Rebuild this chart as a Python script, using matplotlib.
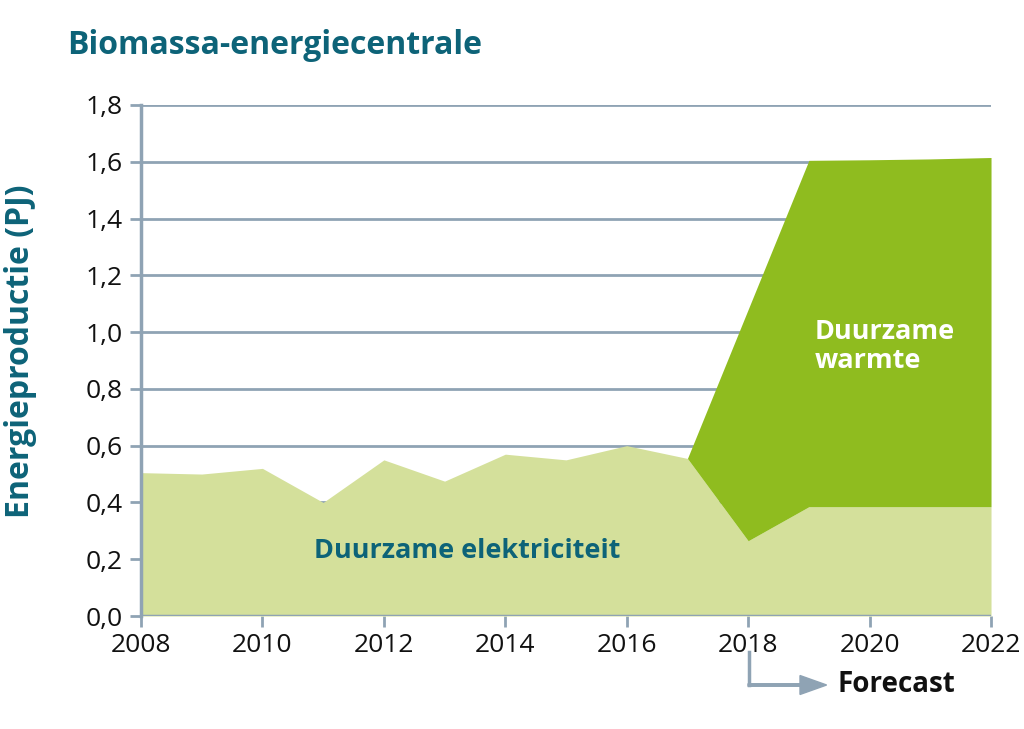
import matplotlib
matplotlib.use('Agg')
import matplotlib.pyplot as plt
import numpy as np

plt.rcParams['font.family'] = ['Open Sans', 'DejaVu Sans']

# data
years = [2008, 2009, 2010, 2011, 2012, 2013, 2014, 2015, 2016, 2017, 2018, 2019, 2020, 2021, 2022]
elektriciteit = [0.505, 0.50, 0.52, 0.40, 0.55, 0.475, 0.57, 0.55, 0.60, 0.555, 0.265, 0.385, 0.385, 0.385, 0.385]
totaal = [0.505, 0.50, 0.52, 0.40, 0.55, 0.475, 0.57, 0.55, 0.60, 0.555, 1.08, 1.605, 1.607, 1.61, 1.615]
y_ticks = [0.0, 0.2, 0.4, 0.6, 0.8, 1.0, 1.2, 1.4, 1.6, 1.8]
x_ticks = [2008, 2010, 2012, 2014, 2016, 2018, 2020, 2022]

teal = '#0d6378'
grid_col = '#8fa3b4'
light_green = '#d4e09b'
dark_green = '#8fbc1f'

fig = plt.figure(figsize=(10.24, 7.29), dpi=100)
ax = fig.add_axes([0.1377, 0.155, 0.8301, 0.701])

ax.fill_between(years, 0, elektriciteit, color=light_green, lw=0, zorder=2)
ax.fill_between(years, elektriciteit, totaal, color=dark_green, lw=0, zorder=2)

ax.set_xlim(2008, 2022)
ax.set_ylim(0, 1.8)
ax.set_xticks(x_ticks)
ax.set_yticks(y_ticks)
ax.set_yticklabels([f'{v:.1f}'.replace('.', ',') for v in y_ticks])

for v in y_ticks:
    ax.axhline(v, color=grid_col, lw=2, zorder=1)
ax.axhline(0, color=grid_col, lw=2.5, zorder=3)

for s in ['top', 'right', 'bottom']:
    ax.spines[s].set_visible(False)
ax.spines['left'].set_color(grid_col)
ax.spines['left'].set_linewidth(2.5)
ax.spines['left'].set_zorder(3)

ax.tick_params(axis='both', colors=grid_col, width=2, length=8, direction='out',
               labelcolor='#111111', labelsize=19)
ax.tick_params(axis='y', pad=5)
ax.tick_params(axis='x', pad=4)

fig.text(0.066, 0.938, 'Biomassa-energiecentrale', color=teal, fontsize=23,
         fontweight='bold', ha='left', va='center')
fig.text(0.020, 0.518, 'Energieproductie (PJ)', color=teal, fontsize=23,
         fontweight='bold', rotation=90, ha='center', va='center')

ax.text(2013.38, 0.23, 'Duurzame elektriciteit', color=teal, fontsize=19.5,
        fontweight='bold', ha='center', va='center', zorder=4)
ax.text(2019.1, 0.95, 'Duurzame\nwarmte', color='white', fontsize=19.5,
        fontweight='bold', ha='left', va='center', linespacing=1.15, zorder=4)

# forecast arrow
fig.lines.append(plt.Line2D([749 / 1024, 749 / 1024], [1 - 652 / 729, 1 - 685 / 729],
                            color=grid_col, lw=2.5, transform=fig.transFigure))
fig.patches.append(matplotlib.patches.FancyArrow(
    748 / 1024, 1 - 685 / 729, 52 / 1024, 0, width=0.0035, head_width=0.026,
    head_length=0.026, length_includes_head=False, color=grid_col,
    transform=fig.transFigure))
fig.text(838 / 1024, 1 - 685 / 729, 'Forecast', color='#111111', fontsize=20,
         fontweight='bold', ha='left', va='center')

fig.savefig('out.png', dpi=100)
